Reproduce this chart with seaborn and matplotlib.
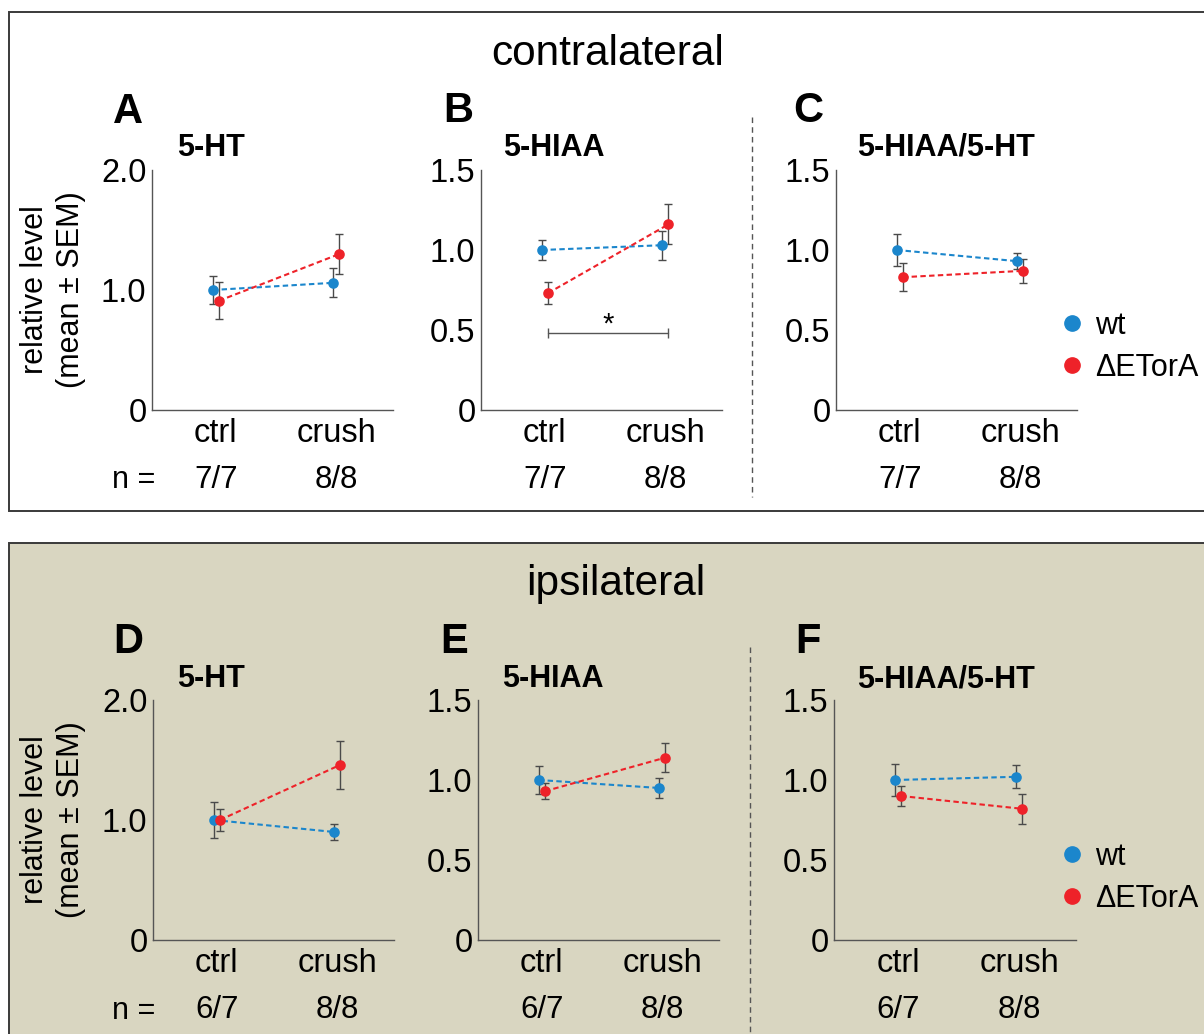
import matplotlib
matplotlib.use("Agg")
import matplotlib.pyplot as plt
from matplotlib.patches import Rectangle
from matplotlib.lines import Line2D
import seaborn as sns
import pandas as pd

# ---------------- data ----------------
categories = ["ctrl", "crush"]
genotypes = ["wt", "ΔETorA"]

# contralateral
A_wt_mean = [1.00, 1.06]; A_wt_sem = [0.12, 0.12]
A_mut_mean = [0.91, 1.30]; A_mut_sem = [0.155, 0.17]
B_wt_mean = [1.00, 1.03]; B_wt_sem = [0.06, 0.09]
B_mut_mean = [0.73, 1.16]; B_mut_sem = [0.07, 0.125]
C_wt_mean = [1.00, 0.93]; C_wt_sem = [0.10, 0.05]
C_mut_mean = [0.83, 0.87]; C_mut_sem = [0.087, 0.074]
# ipsilateral
D_wt_mean = [1.00, 0.90]; D_wt_sem = [0.15, 0.07]
D_mut_mean = [1.00, 1.46]; D_mut_sem = [0.09, 0.20]
E_wt_mean = [1.00, 0.95]; E_wt_sem = [0.085, 0.064]
E_mut_mean = [0.93, 1.14]; E_mut_sem = [0.05, 0.093]
F_wt_mean = [1.00, 1.02]; F_wt_sem = [0.10, 0.073]
F_mut_mean = [0.90, 0.82]; F_mut_sem = [0.06, 0.095]

n_contra = ["7/7", "8/8"]
n_ipsi = ["6/7", "8/8"]
sig_level_B = 0.483

panel_titles = ["5-HT", "5-HIAA", "5-HIAA/5-HT"]
section_titles = ["contralateral", "ipsilateral"]
letters = ["A", "B", "C", "D", "E", "F"]

# ---------------- style ----------------
sns.set_theme(style="white")
plt.rcParams["font.family"] = ["Liberation Sans", "DejaVu Sans"]
plt.rcParams["lines.dashed_pattern"] = [2.6, 1.6]
for key in ["text.color", "axes.labelcolor", "xtick.color", "ytick.color"]:
    plt.rcParams[key] = "black"

W, H = 1204, 1034
fig = plt.figure(figsize=(W / 100, H / 100), dpi=100)
fig.patch.set_facecolor("white")

BLUE = "#1b86cc"
RED = "#ee2229"
BEIGE = "#d9d6c1"
GRAY = "#555555"
palette = {"wt": BLUE, "ΔETorA": RED}

# background boxes
fig.patches.append(Rectangle((9 / W, 1 - 511 / H), (1230 - 9) / W, (511 - 12) / H,
                             transform=fig.transFigure, fc="white", ec="#3a3a3a", lw=1.4, zorder=-5))
fig.patches.append(Rectangle((9 / W, 1 - 1060 / H), (1230 - 9) / W, (1060 - 543) / H,
                             transform=fig.transFigure, fc=BEIGE, ec="#3a3a3a", lw=1.4, zorder=-5))


def fx(x):
    return x / W


def fy(y):
    return 1 - y / H


def add_ax(l, t, r, b):
    return fig.add_axes([fx(l), fy(b), (r - l) / W, (b - t) / H])


panels = [
    dict(pos=(152, 170, 393, 410), wt=(A_wt_mean, A_wt_sem), mut=(A_mut_mean, A_mut_sem),
         ymax=2.0, ticks=[0, 1.0, 2.0], n=n_contra),
    dict(pos=(481, 170, 722, 410), wt=(B_wt_mean, B_wt_sem), mut=(B_mut_mean, B_mut_sem),
         ymax=1.5, ticks=[0, 0.5, 1.0, 1.5], n=n_contra),
    dict(pos=(836, 170, 1077, 410), wt=(C_wt_mean, C_wt_sem), mut=(C_mut_mean, C_mut_sem),
         ymax=1.5, ticks=[0, 0.5, 1.0, 1.5], n=n_contra),
    dict(pos=(153, 700, 394, 940), wt=(D_wt_mean, D_wt_sem), mut=(D_mut_mean, D_mut_sem),
         ymax=2.0, ticks=[0, 1.0, 2.0], n=n_ipsi),
    dict(pos=(478, 700, 719, 940), wt=(E_wt_mean, E_wt_sem), mut=(E_mut_mean, E_mut_sem),
         ymax=1.5, ticks=[0, 0.5, 1.0, 1.5], n=n_ipsi),
    dict(pos=(834, 700, 1076, 940), wt=(F_wt_mean, F_wt_sem), mut=(F_mut_mean, F_mut_sem),
         ymax=1.5, ticks=[0, 0.5, 1.0, 1.5], n=n_ipsi),
]

FS = 22
TFS = 23.5
axes = []
for i, p in enumerate(panels):
    ax = add_ax(*p["pos"])
    axes.append(ax)
    ax.set_facecolor("none")
    df = pd.DataFrame({
        "cond": categories * 2,
        "geno": [genotypes[0]] * 2 + [genotypes[1]] * 2,
        "value": list(p["wt"][0]) + list(p["mut"][0]),
    })
    sns.pointplot(data=df, x="cond", y="value", hue="geno", order=categories,
                  hue_order=genotypes, palette=palette, dodge=0.05, linestyles="--",
                  markers="o", errorbar=None, linewidth=1.5, markersize=6.5,
                  legend=False, ax=ax, zorder=3)
    pts = list(ax.lines)
    for line, sems in zip(pts, [p["wt"][1], p["mut"][1]]):
        ax.errorbar(line.get_xdata(), line.get_ydata(), yerr=sems, fmt="none",
                    ecolor="#4a4a4a", elinewidth=1.0, capsize=3, capthick=1.0, zorder=1)
    if i == 1:
        rx = pts[1].get_xdata()
        ax.plot([rx[0], rx[1]], [sig_level_B, sig_level_B], color=GRAY, lw=1.0,
                marker="|", markersize=7, markeredgewidth=1.0)
        ax.text((rx[0] + rx[1]) / 2, 0.535, "*", ha="center", va="center",
                fontsize=21, color="black")
    ax.set_xlim(-0.53, 1.47)
    ax.set_ylim(0, p["ymax"])
    ax.set_yticks(p["ticks"])
    ax.set_yticklabels(["0" if t == 0 else f"{t:.1f}" for t in p["ticks"]])
    ax.set_xticks([0, 1])
    ax.set_xticklabels(categories)
    ax.set_xlabel("")
    ax.set_ylabel("")
    for s in ["top", "right"]:
        ax.spines[s].set_visible(False)
    for s in ["left", "bottom"]:
        ax.spines[s].set_color(GRAY)
        ax.spines[s].set_linewidth(1.0)
    ax.tick_params(axis="both", length=0, labelsize=TFS, colors="black")
    ax.tick_params(axis="y", pad=4)
    ax.tick_params(axis="x", pad=6)
    for k, lab in enumerate(p["n"]):
        ax.annotate(lab, xy=(k, 0), xycoords=("data", "axes fraction"),
                    xytext=(0, -70 * 0.72), textcoords="offset points",
                    ha="center", va="center", fontsize=FS + 0.5)

# n = labels
for ycen in (480, 1011):
    fig.text(fx(134), fy(ycen), "n =", ha="center", va="center", fontsize=FS)

# y labels
for ycen in (290, 820):
    fig.text(fx(35), fy(ycen), "relative level", rotation=90, ha="center", va="center", fontsize=FS)
    fig.text(fx(71), fy(ycen), "(mean ± SEM)", rotation=90, ha="center", va="center", fontsize=FS)

# section titles
fig.text(fx(608), fy(65), section_titles[0], ha="center", va="baseline", fontsize=30.5)
fig.text(fx(616), fy(595), section_titles[1], ha="center", va="baseline", fontsize=30.5)

# letters
letter_pos = [(113, 123), (443, 122), (793, 122), (113, 653), (440, 653), (795, 653)]
for L, (x, y) in zip(letters, letter_pos):
    fig.text(fx(x), fy(y), L, ha="left", va="baseline", fontsize=30, fontweight="bold")

# panel titles
title_pos = [(177, 156), (503, 156), (857, 156), (177, 687), (502, 687), (857, 687)]
for k, (x, y) in enumerate(title_pos):
    fig.text(fx(x), fy(y), panel_titles[k % 3], ha="left", va="baseline",
             fontsize=FS, fontweight="bold")

# dashed separators
fig.add_artist(Line2D([fx(752), fx(752)], [fy(117), fy(497)], transform=fig.transFigure,
                      ls=(0, (4, 3)), color=GRAY, lw=1.0))
fig.add_artist(Line2D([fx(750), fx(750)], [fy(647), fy(1040)], transform=fig.transFigure,
                      ls=(0, (4, 3)), color=GRAY, lw=1.0))

# legends
handles = [Line2D([0], [0], marker="o", ls="none", markerfacecolor=palette[g],
                  markeredgecolor=palette[g], markersize=11) for g in genotypes]
for ycen in (347, 878):
    fig.legend(handles, genotypes, loc="center left", bbox_to_anchor=(fx(1057), fy(ycen)),
               frameon=False, fontsize=FS, handletextpad=0.25, labelspacing=0.4,
               handlelength=1.0, borderaxespad=0, borderpad=0)

fig.savefig("out.png", dpi=100, facecolor="white")
